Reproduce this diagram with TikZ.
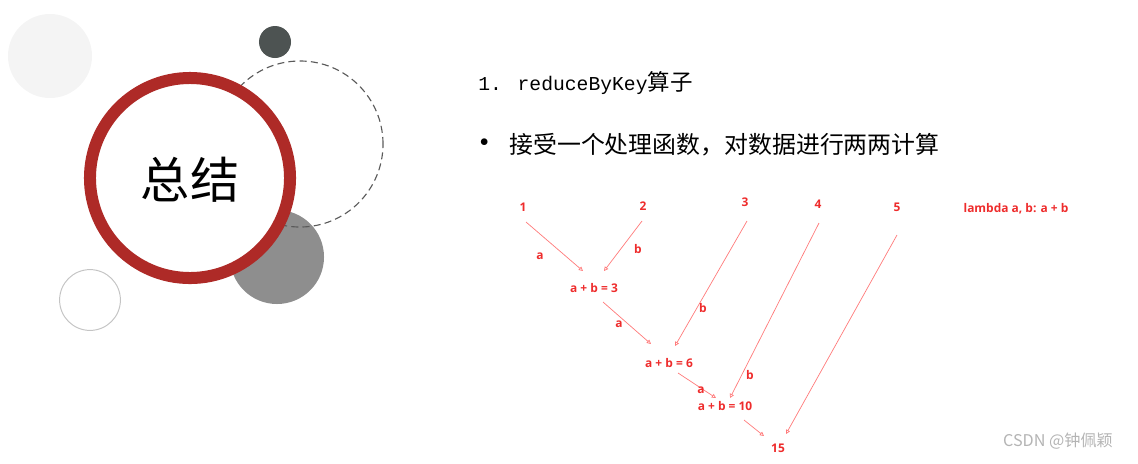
\documentclass[tikz,border=0pt]{standalone}
\usepackage{fontspec}
\usepackage{tikz}
\usetikzlibrary{arrows.meta}
\newfontfamily\cjkfont{Noto Sans CJK SC}
\newfontfamily\codefont{Liberation Mono}
\newfontfamily\labelfont{Open Sans}
\newfontfamily\dotfont{Liberation Serif}
\definecolor{ring}{HTML}{AE2A27}
\definecolor{pale}{HTML}{F4F4F4}
\definecolor{slate}{HTML}{4D5352}
\definecolor{midgray}{HTML}{8E8E8E}
\definecolor{dashgray}{HTML}{5A5A5A}
\definecolor{outlinegray}{HTML}{C4C4C4}
\definecolor{redtxt}{HTML}{EE2C2C}
\definecolor{redln}{HTML}{FF7A7A}
\definecolor{wm}{HTML}{B4B4B4}
\tikzset{
  num/.style={font=\labelfont\bfseries\fontsize{8.5}{10}\selectfont,text=redtxt,inner sep=1pt},
  sum/.style={num},
  lbl/.style={num},
  flow/.style={-{Triangle[open,length=3pt,width=3pt]},color=redln,line width=0.5pt},
  body/.style={anchor=west,inner sep=0pt}}

\begin{document}
\begin{tikzpicture}[x=0.025cm,y=-0.025cm]
\useasboundingbox (0,0) rectangle (1138,463);
% decoration
\fill[pale] (50,56) circle[radius=1.05cm];
\fill[slate] (275,42) circle[radius=0.4cm];
\fill[midgray] (277,257) circle[radius=1.175cm];
\draw[dashgray,line width=0.8pt,dash pattern=on 5pt off 3pt] (300,144) circle[radius=2.075cm];
\draw[ring,fill=white,line width=0.3cm] (190,178) circle[radius=2.5cm];
\draw[outlinegray,line width=0.7pt] (90,300) circle[radius=0.76cm];
\node (title) at (190,180) {\cjkfont\fontsize{35}{40}\selectfont 总结};
% text
\node[body] (head) at (478,83) {\codefont\fontsize{14}{16}\selectfont 1. reduceByKey{\cjkfont\fontsize{16}{18}\selectfont 算子}};
\node[body] (dot) at (479,145) {\dotfont\fontsize{20}{22}\selectfont •};
\node[body] (desc) at (509,145) {\cjkfont\fontsize{17}{20}\selectfont 接受一个处理函数，对数据进行两两计算};
% reduce tree
\node[num] (n1) at (523,207) {1};
\node[num] (n2) at (643,206) {2};
\node[num] (n3) at (745,202) {3};
\node[num] (n4) at (818,204) {4};
\node[num] (n5) at (897,207) {5};
\node[num] (fn) at (1016,209) {lambda a, b: a + b};
\node[sum] (s3) at (594,288) {a + b = 3};
\node[sum] (s6) at (669,363) {a + b = 6};
\node[sum] (s10) at (725,406) {a + b = 10};
\node[sum] (r15) at (778,448) {15};
\draw[flow] ([shift={(3,15)}]n1.center) -- ([shift={(-11,-17)}]s3.center);
\draw[flow] ([shift={(-1,15)}]n2.center) -- ([shift={(10,-17)}]s3.center);
\draw[flow] ([shift={(2,19)}]n3.center) -- ([shift={(6,-17)}]s6.center);
\draw[flow] ([shift={(9,14)}]s3.center) -- ([shift={(-18,-19)}]s6.center);
\draw[flow] ([shift={(1,19)}]n4.center) -- ([shift={(5,-8)}]s10.center);
\draw[flow] ([shift={(9,10)}]s6.center) -- ([shift={(-9,-8)}]s10.center);
\draw[flow] ([shift={(0,28)}]n5.center) -- ([shift={(8,-14)}]r15.center);
\draw[flow] ([shift={(19,14)}]s10.center) -- ([shift={(-14,-12)}]r15.center);
\node[lbl] (a1) at (540,256) {a};
\node[lbl] (b1) at (638,249) {b};
\node[lbl] (a2) at (619,324) {a};
\node[lbl] (b2) at (703,308) {b};
\node[lbl] (a3) at (701,390) {a};
\node[lbl] (b3) at (750,375) {b};
% watermark
\node[text=wm] (mark) at (1058,441) {\cjkfont\fontsize{11.5}{13}\selectfont CSDN @钟佩颖};
\end{tikzpicture}
\end{document}
